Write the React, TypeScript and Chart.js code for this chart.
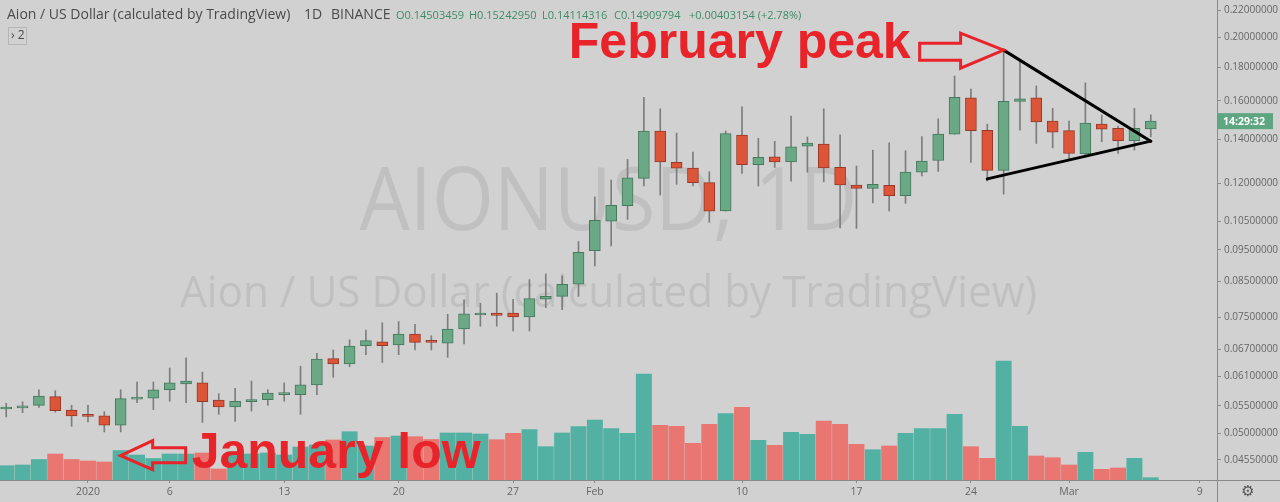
import React, { useEffect, useRef } from 'react';
import { Chart, registerables } from 'chart.js';

Chart.register(...registerables);

// ---------------- data (AION/USD daily, 27 Dec 2019 .. 6 Mar 2020) ----------------
const opens = [
  0.0544, 0.0546, 0.0551, 0.0568, 0.0542, 0.0533, 0.0531, 0.0514, 0.0563, 0.0565,
  0.0582, 0.0594, 0.0596, 0.0561, 0.0548, 0.0558, 0.0562, 0.0572, 0.0572, 0.0592,
  0.0649, 0.0637, 0.0679, 0.0688, 0.0681, 0.0707, 0.0691, 0.0685, 0.0720, 0.0756,
  0.0761, 0.0761, 0.0751, 0.0799, 0.0807, 0.0842, 0.0947, 0.1050, 0.1109, 0.1220,
  0.1440, 0.1291, 0.1265, 0.1202, 0.1089, 0.1420, 0.1280, 0.1316, 0.1292, 0.1366,
  0.1376, 0.1268, 0.1192, 0.1178, 0.1191, 0.1148, 0.1247, 0.1299, 0.1424, 0.1618,
  0.1444, 0.1255, 0.1598, 0.1618, 0.1491, 0.1442, 0.1329, 0.1476, 0.1454, 0.1392,
  0.14503459,
];
const highs = [
  0.0555, 0.0558, 0.0582, 0.0580, 0.0551, 0.0551, 0.0539, 0.0582, 0.0598, 0.0598,
  0.0628, 0.0651, 0.0619, 0.0574, 0.0585, 0.0600, 0.0582, 0.0596, 0.0632, 0.0661,
  0.0669, 0.0693, 0.0717, 0.0736, 0.0739, 0.0732, 0.0703, 0.0758, 0.0797, 0.0788,
  0.0816, 0.0799, 0.0856, 0.0873, 0.0867, 0.0978, 0.1144, 0.1213, 0.1304, 0.1620,
  0.1557, 0.1430, 0.1338, 0.1249, 0.1440, 0.1568, 0.1404, 0.1389, 0.1518, 0.1410,
  0.1557, 0.1421, 0.1274, 0.1347, 0.1382, 0.1344, 0.1412, 0.1503, 0.1746, 0.1668,
  0.1475, 0.1916, 0.1836, 0.1686, 0.1559, 0.1491, 0.1705, 0.1523, 0.1465, 0.1559,
  0.15242950,
];
const lows = [
  0.0529, 0.0537, 0.0547, 0.0538, 0.0512, 0.0520, 0.0502, 0.0502, 0.0556, 0.0543,
  0.0559, 0.0556, 0.0519, 0.0534, 0.0521, 0.0540, 0.0551, 0.0559, 0.0534, 0.0572,
  0.0608, 0.0631, 0.0658, 0.0640, 0.0658, 0.0669, 0.0669, 0.0652, 0.0683, 0.0727,
  0.0727, 0.0715, 0.0715, 0.0776, 0.0770, 0.0807, 0.0898, 0.0963, 0.1057, 0.1188,
  0.1151, 0.1195, 0.1188, 0.1046, 0.1088, 0.1242, 0.1188, 0.1268, 0.1208, 0.1247,
  0.1205, 0.1026, 0.1024, 0.1120, 0.1089, 0.1118, 0.1231, 0.1250, 0.1424, 0.1290,
  0.1209, 0.1155, 0.1445, 0.1379, 0.1358, 0.1304, 0.1315, 0.1387, 0.1331, 0.1347,
  0.14114316,
];
const closes = [
  0.0546, 0.0550, 0.0569, 0.0541, 0.0531, 0.0530, 0.0514, 0.0564, 0.0566, 0.0582,
  0.0596, 0.0600, 0.0558, 0.0548, 0.0559, 0.0562, 0.0575, 0.0575, 0.0592, 0.0648,
  0.0637, 0.0678, 0.0691, 0.0679, 0.0707, 0.0687, 0.0687, 0.0720, 0.0759, 0.0759,
  0.0755, 0.0751, 0.0801, 0.0807, 0.0842, 0.0942, 0.1053, 0.1110, 0.1222, 0.1440,
  0.1292, 0.1264, 0.1202, 0.1088, 0.1427, 0.1280, 0.1313, 0.1292, 0.1363, 0.1381,
  0.1266, 0.1192, 0.1178, 0.1195, 0.1148, 0.1247, 0.1296, 0.1425, 0.1620, 0.1442,
  0.1255, 0.1598, 0.1612, 0.1487, 0.1435, 0.1331, 0.1481, 0.1450, 0.1392, 0.1454,
  0.14909794,
];
const volumes = [
  143, 150, 205, 260, 205, 190, 180, 295, 250, 215,
  260, 260, 270, 110, 280, 260, 270, 250, 330, 350,
  400, 483, 340, 425, 440, 433, 405, 470, 470, 460,
  403, 467, 503, 333, 470, 533, 600, 513, 467, 1060,
  547, 537, 367, 557, 663, 727, 397, 347, 477, 457,
  590, 557, 357, 303, 340, 467, 513, 513, 657, 333,
  217, 1190, 537, 240, 223, 150, 277, 107, 120, 217,
  23,
];
const priceTicks = [0.22, 0.2, 0.18, 0.16, 0.14, 0.12, 0.105, 0.095, 0.085, 0.075, 0.067, 0.061, 0.055, 0.05, 0.0455];
const dateTickIndex = [5, 10, 17, 24, 31, 36, 45, 52, 59, 65, 73];
const dateTickText = ['2020', '6', '13', '20', '27', 'Feb', '10', '17', '24', 'Mar', '9'];

const titleText = 'Aion / US Dollar (calculated by TradingView)';
const intervalText = '1D';
const exchangeText = 'BINANCE';
const changeText = '+0.00403154 (+2.78%)';
const countdownText = '14:29:32';
const watermarkMain = 'AIONUSD, 1D';

// annotation anchors in data space: [candle index, price]
const trendLines: [number, number][][] = [
  [[61, 0.1912], [70, 0.139]],
  [[60, 0.1218], [70, 0.139]],
];
const febArrowTip: [number, number] = [61, 0.1912];
const janArrowTip: [number, number] = [7, 0.0462];
const febText = 'February peak';
const janText = 'January low';

// ---------------- styles ----------------
const BG = '#d1d1d1';
const UP = '#6aa886';
const UP_BORDER = '#44795c';
const DOWN = '#dd5539';
const DOWN_BORDER = '#963827';
const WICK = '#7d7d7d';
const VOL_UP = '#52b1a3';
const VOL_DOWN = '#ea7671';
const AXIS_LINE = '#8a8a8a';
const AXIS_TEXT = '#666666';
const HEADER_TEXT = '#4a4a4a';
const OHLC_TEXT = '#3d8c68';
const ANNOT_RED = '#e8232a';
const FONT = '"Open Sans", "DejaVu Sans", sans-serif';

function drawFitText(ctx: CanvasRenderingContext2D, text: string, cx: number, baseline: number, size: number, width: number) {
  ctx.save();
  ctx.font = `${size}px ${FONT}`;
  const w = ctx.measureText(text).width;
  ctx.translate(cx, baseline);
  ctx.scale(width / w, 1);
  ctx.textAlign = 'center';
  ctx.textBaseline = 'alphabetic';
  ctx.fillText(text, 0, 0);
  ctx.restore();
}

function drawArrow(ctx: CanvasRenderingContext2D, x: number, y: number, pts: number[][]) {
  ctx.beginPath();
  pts.forEach((p, i) => (i === 0 ? ctx.moveTo(x + p[0], y + p[1]) : ctx.lineTo(x + p[0], y + p[1])));
  ctx.closePath();
  ctx.stroke();
}

const backgroundPlugin = {
  id: 'tvBackground',
  beforeDraw(chart: any) {
    const { ctx, chartArea: a } = chart;
    ctx.save();
    ctx.fillStyle = BG;
    ctx.fillRect(0, 0, chart.width, chart.height);
    ctx.fillStyle = 'rgba(110,110,110,0.17)';
    const cx = (a.left + a.right) / 2;
    drawFitText(ctx, watermarkMain, cx, a.top + a.height * 0.479, 88, 498);
    drawFitText(ctx, titleText, cx, a.top + a.height * 0.64, 44, 857);
    ctx.restore();
  },
};

const overlayPlugin = {
  id: 'tvOverlay',
  afterDraw(chart: any) {
    const { ctx, chartArea: a, scales } = chart;
    const px = (i: number) => scales.x.getPixelForValue(i);
    const py = (v: number) => scales.y.getPixelForValue(v);
    ctx.save();

    // pane frame lines
    ctx.strokeStyle = AXIS_LINE;
    ctx.lineWidth = 1;
    ctx.beginPath();
    ctx.moveTo(Math.round(a.right) + 0.5, 0);
    ctx.lineTo(Math.round(a.right) + 0.5, chart.height);
    ctx.moveTo(0, Math.round(a.bottom) + 0.5);
    ctx.lineTo(chart.width, Math.round(a.bottom) + 0.5);
    ctx.stroke();

    // triangle trend lines
    ctx.strokeStyle = '#000';
    ctx.lineWidth = 3;
    ctx.lineCap = 'round';
    for (const seg of trendLines) {
      ctx.beginPath();
      ctx.moveTo(px(seg[0][0]), py(seg[0][1]));
      ctx.lineTo(px(seg[1][0]), py(seg[1][1]));
      ctx.stroke();
    }

    // red arrows + text
    ctx.strokeStyle = ANNOT_RED;
    ctx.lineWidth = 3;
    ctx.lineJoin = 'miter';
    const fx = px(febArrowTip[0]);
    const fy = py(febArrowTip[1]);
    drawArrow(ctx, fx, fy, [[0, 0], [-43, -17], [-43, -7], [-84, -7], [-84, 10], [-43, 10], [-43, 18]]);
    const jx = px(janArrowTip[0]);
    const jy = py(janArrowTip[1]);
    drawArrow(ctx, jx, jy, [[0, 0], [32, -15], [32, -8], [65, -8], [65, 7], [32, 7], [32, 14]]);

    ctx.fillStyle = ANNOT_RED;
    ctx.font = 'bold 50px "Liberation Sans", Arial, sans-serif';
    ctx.textBaseline = 'alphabetic';
    ctx.textAlign = 'right';
    ctx.fillText(febText, fx - 93, fy + 8);
    ctx.textAlign = 'left';
    ctx.fillText(janText, jx + 71, jy + 12);

    // header legend
    ctx.textBaseline = 'middle';
    ctx.textAlign = 'left';
    ctx.font = `14px ${FONT}`;
    ctx.fillStyle = HEADER_TEXT;
    ctx.fillText(titleText, 7, 15);
    ctx.fillText(intervalText, 304, 15);
    ctx.fillText(exchangeText, 331, 15);
    const last = opens.length - 1;
    ctx.font = `11px ${FONT}`;
    ctx.fillStyle = OHLC_TEXT;
    ctx.fillText('O' + opens[last].toFixed(8), 396, 16);
    ctx.fillText('H' + highs[last].toFixed(8), 469, 16);
    ctx.fillText('L' + lows[last].toFixed(8), 542, 16);
    ctx.fillText('C' + closes[last].toFixed(8), 614, 16);
    ctx.fillText(changeText, 689, 16);

    // collapse button "> 2"
    ctx.strokeStyle = 'rgba(0,0,0,0.13)';
    ctx.lineWidth = 1;
    ctx.strokeRect(8.5, 27.5, 18, 17);
    ctx.fillStyle = HEADER_TEXT;
    ctx.font = `12px ${FONT}`;
    ctx.fillText('› 2', 11, 36);

    // countdown label on price axis
    const cy = py(closes[last]);
    ctx.fillStyle = '#5ea682';
    ctx.fillRect(a.right + 1, cy - 8, 55, 16);
    ctx.fillStyle = '#ffffff';
    ctx.font = `bold 10.5px ${FONT}`;
    ctx.textAlign = 'left';
    ctx.fillText(countdownText, a.right + 6, cy + 0.5);

    // settings gear
    ctx.fillStyle = '#555';
    ctx.font = '15px "DejaVu Sans", sans-serif';
    ctx.textAlign = 'center';
    ctx.fillText('\u2699', 1248, 492);

    ctx.restore();
  },
};

export default function App() {
  const ref = useRef<HTMLCanvasElement>(null);

  useEffect(() => {
    const canvas = ref.current;
    if (!canvas) return;
    const idx = opens.map((_, i) => i);
    const up = idx.map((i) => closes[i] >= opens[i]);

    const chart = new Chart(canvas, {
      type: 'bar',
      data: {
        datasets: [
          {
            label: 'Body',
            data: idx.map((i) => ({ x: i, y: [opens[i], closes[i]] })) as any,
            yAxisID: 'y',
            order: 1,
            grouped: false,
            barThickness: 11,
            minBarLength: 2,
            backgroundColor: up.map((u) => (u ? UP : DOWN)),
            borderColor: up.map((u) => (u ? UP_BORDER : DOWN_BORDER)),
            borderWidth: 1,
            borderSkipped: false,
          } as any,
          {
            label: 'Wick',
            data: idx.map((i) => ({ x: i, y: [lows[i], highs[i]] })) as any,
            yAxisID: 'y',
            order: 2,
            grouped: false,
            barThickness: 1,
            backgroundColor: WICK,
            borderWidth: 0,
          } as any,
          {
            label: 'Volume',
            data: idx.map((i) => ({ x: i, y: volumes[i] })) as any,
            yAxisID: 'yv',
            order: 3,
            grouped: false,
            barThickness: 15.3,
            backgroundColor: up.map((u) => (u ? VOL_UP : VOL_DOWN)),
            borderWidth: 0,
          } as any,
        ],
      },
      options: {
        responsive: false,
        animation: false,
        devicePixelRatio: 1,
        layout: { padding: 0 },
        events: [],
        plugins: { legend: { display: false }, tooltip: { enabled: false }, title: { display: false } },
        scales: {
          x: {
            type: 'linear',
            position: 'bottom',
            offset: false,
            min: -0.38,
            max: 74.05,
            bounds: 'data',
            afterBuildTicks: (s: any) => {
              s.ticks = dateTickIndex.map((v) => ({ value: v }));
            },
            afterFit: (s: any) => {
              s.height = 22;
              s.paddingLeft = 0;
              s.paddingRight = 0;
            },
            ticks: {
              autoSkip: false,
              maxRotation: 0,
              minRotation: 0,
              padding: 3,
              color: AXIS_TEXT,
              font: { family: FONT, size: 10.5 },
              callback: (v: any) => {
                const k = dateTickIndex.indexOf(Number(v));
                return k >= 0 ? dateTickText[k] : '';
              },
            },
            grid: { offset: false, drawOnChartArea: false, drawTicks: true, tickLength: 3, color: AXIS_LINE },
            border: { display: true, color: AXIS_LINE },
          },
          y: {
            type: 'logarithmic',
            position: 'right',
            min: 0.04242,
            max: 0.2279,
            bounds: 'data',
            afterBuildTicks: (s: any) => {
              s.ticks = priceTicks.map((v) => ({ value: v }));
            },
            afterFit: (s: any) => {
              s.width = 63;
              s.paddingTop = 0;
              s.paddingBottom = 0;
            },
            ticks: {
              padding: 3,
              color: AXIS_TEXT,
              font: { family: FONT, size: 10 },
              callback: (v: any) => Number(v).toFixed(8),
            },
            grid: { drawOnChartArea: false, drawTicks: true, tickLength: 4, color: AXIS_LINE },
            border: { display: true, color: AXIS_LINE },
          },
          yv: {
            type: 'linear',
            display: false,
            min: 0,
            max: 4800,
          },
        },
      } as any,
      plugins: [backgroundPlugin, overlayPlugin],
    });

    return () => chart.destroy();
  }, []);

  return (
    <div style={{ position: 'fixed', left: 0, top: 0, width: 1280, height: 502, background: BG, overflow: 'hidden' }}>
      <canvas ref={ref} width={1280} height={502} style={{ display: 'block', width: 1280, height: 502 }} />
    </div>
  );
}
